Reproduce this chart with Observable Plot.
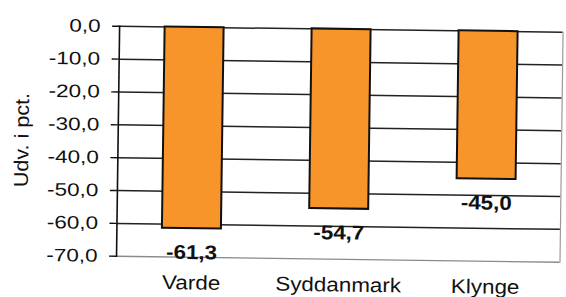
<!DOCTYPE html>
<html>
<head>
<meta charset="utf-8">
<script src="https://cdn.jsdelivr.net/npm/d3@7"></script>
<script src="https://cdn.jsdelivr.net/npm/@observablehq/plot@0.6"></script>
<style>
  html, body { margin: 0; padding: 0; background: #fff; overflow: hidden; }
  #chart { width: 566px; height: 297px; }
  #chart svg { display: block; transform: rotate(0.77deg); transform-origin: 283px 148px; }
</style>
</head>
<body>
<div id="chart"></div>
<script>
const categories = ["Varde", "Syddanmark", "Klynge"];
const values = [-61.3, -54.7, -45.0];
const valueLabels = ["-61,3", "-54,7", "-45,0"];
const yTicks = [0, -10, -20, -30, -40, -50, -60, -70];
const yTickLabels = ["0,0", "-10,0", "-20,0", "-30,0", "-40,0", "-50,0", "-60,0", "-70,0"];
const yTitle = "Udv. i pct.";

const data = categories.map((c, i) => ({category: c, value: values[i], label: valueLabels[i]}));

const chart = Plot.plot({
  width: 566,
  height: 297,
  marginLeft: 117.5,
  marginRight: 5,
  marginTop: 28,
  marginBottom: 39,
  style: {fontFamily: "'Liberation Sans', Arial, sans-serif", background: "transparent", overflow: "visible", color: "#111"},
  x: {domain: categories, paddingInner: 0.6, paddingOuter: 0.3, axis: null},
  y: {domain: [-70, 0], axis: null},
  marks: [
    Plot.ruleY(yTicks.filter(d => d > -70), {stroke: "#222", strokeWidth: 1.5}),
    Plot.ruleY([-70], {stroke: "#8a8a8a", strokeWidth: 1.3}),
    Plot.frame({anchor: "right", stroke: "#9a9a9a", strokeWidth: 1.2}),
    Plot.frame({anchor: "left", stroke: "#111", strokeWidth: 1.6}),
    Plot.barY(data, {x: "category", y: "value", fill: "#F7942A", stroke: "#111", strokeWidth: 2}),
    Plot.text(data, {x: "category", y: "value", text: "label", dy: 24, fontWeight: "bold", fontSize: 20, fill: "#111"}),
    Plot.axisY(yTicks, {
      tickFormat: d => yTickLabels[yTicks.indexOf(d)],
      tickSize: 7, tickPadding: 12, fontSize: 18, stroke: "#111", strokeWidth: 1.4,
      label: null
    }),
    Plot.text([yTitle], {frameAnchor: "left", textAnchor: "middle", rotate: -90, dx: -96, fontSize: 20, fill: "#111"}),
    Plot.axisX({tickSize: 0, tickPadding: 18, fontSize: 20, label: null})
  ]
});

document.getElementById("chart").appendChild(chart);

// widen text slightly to match the scanned reference's glyph proportions
function widen(texts, k) {
  texts.forEach(t => {
    const tr = t.getAttribute("transform") || "";
    t.setAttribute("transform", (tr + ` scale(${k},1)`).trim());
  });
}
widen(chart.querySelectorAll('g[aria-label="y-axis tick label"] text'), 1.25);
widen(chart.querySelectorAll('g[aria-label="x-axis tick label"] text'), 1.12);
const textGroups = chart.querySelectorAll('g[aria-label="text"]');
widen(textGroups[0].querySelectorAll("text"), 1.12);
widen(textGroups[1].querySelectorAll("text"), 1.08);
</script>
</body>
</html>
